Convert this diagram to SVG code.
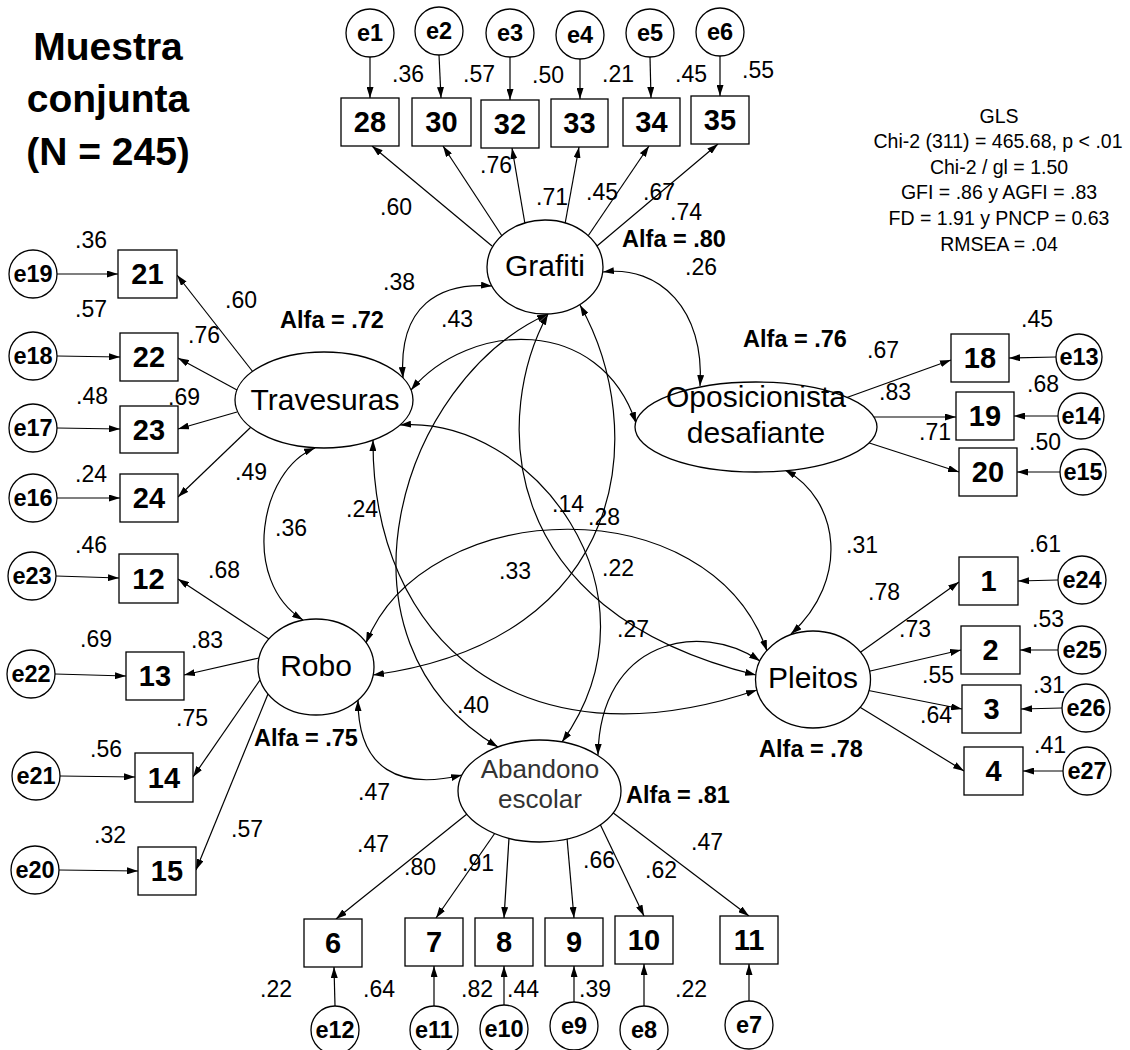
<svg xmlns="http://www.w3.org/2000/svg" width="1130" height="1050" viewBox="0 0 1130 1050">
<defs>
<marker id="ah" markerUnits="userSpaceOnUse" markerWidth="11" markerHeight="7" refX="11" refY="3.5" orient="auto-start-reverse"><path d="M0,0 L11,3.5 L0,7 z" fill="#000"/></marker>
</defs>
<style>
.ln{stroke:#000;stroke-width:1.2;fill:none;marker-end:url(#ah)}
.cv{stroke:#000;stroke-width:1.2;fill:none;marker-start:url(#ah);marker-end:url(#ah)}
.sh{fill:#fff;stroke:#000;stroke-width:1.3}
text{font-family:"Liberation Sans",Arial,sans-serif;fill:#000;text-anchor:middle}
.n{font-size:23px}
.bx{font-size:29px;font-weight:bold}
.el{font-size:23.5px;font-weight:bold}
.lt{font-size:30px}
.ab{font-size:26px;fill:#333}
.al{font-size:23.5px;font-weight:bold}
.st{font-size:19.5px}
.ti{font-size:39px;font-weight:bold}
</style>
<rect width="1130" height="1050" fill="#fff"/>
<g id="title">
<text class="ti" x="108" y="60">Muestra</text>
<text class="ti" x="108" y="112">conjunta</text>
<text class="ti" x="108" y="165">(N = 245)</text>
</g>
<g id="stats">
<text class="st" x="999" y="123">GLS</text>
<text class="st" x="998" y="148">Chi-2 (311) = 465.68, p &lt; .01</text>
<text class="st" x="999" y="174">Chi-2 / gl = 1.50</text>
<text class="st" x="999" y="199">GFI = .86 y AGFI = .83</text>
<text class="st" x="999" y="225">FD = 1.91 y PNCP = 0.63</text>
<text class="st" x="999" y="251">RMSEA = .04</text>
</g>
<g id="connectors">
<path class="ln" d="M370,57 L370,98"/>
<path class="ln" d="M439,55 L441,98"/>
<path class="ln" d="M510,57 L510,100"/>
<path class="ln" d="M580,59 L580,99"/>
<path class="ln" d="M650,57 L651,98"/>
<path class="ln" d="M720,56 L720,96"/>
<path class="ln" d="M57,274 L118,274"/>
<path class="ln" d="M57,356 L120,357"/>
<path class="ln" d="M57,428 L120,429"/>
<path class="ln" d="M57,498 L120,498"/>
<path class="ln" d="M56,576 L119,578"/>
<path class="ln" d="M55,674 L126,676"/>
<path class="ln" d="M60,776 L135,777"/>
<path class="ln" d="M59,870 L138,871"/>
<path class="ln" d="M1056,357 L1009,358"/>
<path class="ln" d="M1058,416 L1014,416"/>
<path class="ln" d="M1060,472 L1017,472"/>
<path class="ln" d="M1058,580 L1018,581"/>
<path class="ln" d="M1058,650 L1020,650"/>
<path class="ln" d="M1062,708 L1021,709"/>
<path class="ln" d="M1063,771 L1023,771"/>
<path class="ln" d="M335,1006 L334,967"/>
<path class="ln" d="M434,1006 L434,966"/>
<path class="ln" d="M504,1005 L504,966"/>
<path class="ln" d="M574,1002 L574,966"/>
<path class="ln" d="M644,1006 L644,964"/>
<path class="ln" d="M749,1001 L749,964"/>
<path class="ln" d="M492,246 L372,146"/>
<path class="ln" d="M502,236 L443,146"/>
<path class="ln" d="M525,224 L512,148"/>
<path class="ln" d="M565,224 L579,147"/>
<path class="ln" d="M588,236 L649,146"/>
<path class="ln" d="M597,246 L718,144"/>
<path class="ln" d="M253,372 L177,275"/>
<path class="ln" d="M237,390 L178,358"/>
<path class="ln" d="M237,412 L178,429"/>
<path class="ln" d="M251,427 L178,497"/>
<path class="ln" d="M269,639 L178,579"/>
<path class="ln" d="M259,658 L184,675"/>
<path class="ln" d="M260,680 L193,777"/>
<path class="ln" d="M268,694 L196,870"/>
<path class="ln" d="M840,400 L951,360"/>
<path class="ln" d="M870,417 L956,417"/>
<path class="ln" d="M857,439 L959,472"/>
<path class="ln" d="M858,654 L959,582"/>
<path class="ln" d="M866,672 L961,650"/>
<path class="ln" d="M866,690 L962,709"/>
<path class="ln" d="M858,706 L964,771"/>
<path class="ln" d="M467,814 L336,919"/>
<path class="ln" d="M495,833 L436,918"/>
<path class="ln" d="M509,838 L504,918"/>
<path class="ln" d="M567,838 L574,918"/>
<path class="ln" d="M600,824 L644,916"/>
<path class="ln" d="M612,812 L749,916"/>
<path class="cv" d="M492,286 C440,282 398,305 403,378"/>
<path class="cv" d="M411,390 C470,320 600,315 636,423"/>
<path class="cv" d="M603,272 C660,265 705,310 700,386"/>
<path class="cv" d="M315,448 C260,470 240,580 303,620"/>
<path class="cv" d="M373,440 C372,640 520,770 757,690"/>
<path class="cv" d="M548,314 C400,380 320,640 498,747"/>
<path class="cv" d="M548,314 C495,410 490,610 756,675"/>
<path class="cv" d="M580,305 C650,430 630,640 373,675"/>
<path class="cv" d="M400,425 C530,415 670,590 562,742"/>
<path class="cv" d="M366,643 C425,495 710,485 767,651"/>
<path class="cv" d="M598,755 C600,640 700,620 760,661"/>
<path class="cv" d="M358,700 C358,770 400,790 462,775"/>
<path class="cv" d="M785,470 C840,500 850,580 791,634"/>
</g>
<g id="labels">
<text class="n" x="408" y="82">.36</text>
<text class="n" x="479" y="82">.57</text>
<text class="n" x="548" y="83">.50</text>
<text class="n" x="618" y="82">.21</text>
<text class="n" x="691" y="82">.45</text>
<text class="n" x="758" y="78">.55</text>
<text class="n" x="396" y="215">.60</text>
<text class="n" x="496" y="173">.76</text>
<text class="n" x="552" y="205">.71</text>
<text class="n" x="602" y="200">.45</text>
<text class="n" x="659" y="200">.67</text>
<text class="n" x="686" y="220">.74</text>
<text class="al" x="674" y="247">Alfa = .80</text>
<text class="n" x="701" y="275">.26</text>
<text class="n" x="399" y="290">.38</text>
<text class="n" x="457" y="327">.43</text>
<text class="n" x="91" y="248">.36</text>
<text class="n" x="91" y="317">.57</text>
<text class="n" x="92" y="404">.48</text>
<text class="n" x="91" y="482">.24</text>
<text class="n" x="241" y="308">.60</text>
<text class="n" x="204" y="343">.76</text>
<text class="n" x="184" y="405">.69</text>
<text class="n" x="251" y="480">.49</text>
<text class="al" x="332" y="328">Alfa = .72</text>
<text class="al" x="795" y="347">Alfa = .76</text>
<text class="n" x="883" y="358">.67</text>
<text class="n" x="895" y="400">.83</text>
<text class="n" x="935" y="440">.71</text>
<text class="n" x="1037" y="327">.45</text>
<text class="n" x="1043" y="392">.68</text>
<text class="n" x="1045" y="450">.50</text>
<text class="n" x="291" y="536">.36</text>
<text class="n" x="362" y="517">.24</text>
<text class="n" x="568" y="512">.14</text>
<text class="n" x="604" y="525">.28</text>
<text class="n" x="515" y="579">.33</text>
<text class="n" x="618" y="576">.22</text>
<text class="n" x="862" y="553">.31</text>
<text class="n" x="633" y="637">.27</text>
<text class="n" x="473" y="713">.40</text>
<text class="n" x="374" y="800">.47</text>
<text class="n" x="91" y="553">.46</text>
<text class="n" x="96" y="647">.69</text>
<text class="n" x="106" y="757">.56</text>
<text class="n" x="110" y="843">.32</text>
<text class="n" x="224" y="578">.68</text>
<text class="n" x="207" y="648">.83</text>
<text class="n" x="192" y="726">.75</text>
<text class="n" x="247" y="837">.57</text>
<text class="al" x="306" y="746">Alfa = .75</text>
<text class="n" x="1045" y="552">.61</text>
<text class="n" x="1048" y="627">.53</text>
<text class="n" x="1049" y="693">.31</text>
<text class="n" x="1050" y="753">.41</text>
<text class="n" x="884" y="600">.78</text>
<text class="n" x="915" y="637">.73</text>
<text class="n" x="938" y="683">.55</text>
<text class="n" x="936" y="723">.64</text>
<text class="al" x="811" y="757">Alfa = .78</text>
<text class="al" x="678" y="803">Alfa = .81</text>
<text class="n" x="373" y="852">.47</text>
<text class="n" x="420" y="875">.80</text>
<text class="n" x="478" y="871">.91</text>
<text class="n" x="599" y="868">.66</text>
<text class="n" x="661" y="878">.62</text>
<text class="n" x="707" y="850">.47</text>
<text class="n" x="276" y="997">.22</text>
<text class="n" x="379" y="997">.64</text>
<text class="n" x="477" y="997">.82</text>
<text class="n" x="523" y="997">.44</text>
<text class="n" x="595" y="997">.39</text>
<text class="n" x="691" y="997">.22</text>
</g>
<g id="latent-grafiti"><ellipse class="sh" cx="545" cy="267" rx="58" ry="47"/><text class="lt" x="545" y="276">Grafiti</text></g>
<g id="latent-travesuras"><ellipse class="sh" cx="324" cy="400" rx="89" ry="48"/><text class="lt" x="325" y="410">Travesuras</text></g>
<g id="latent-oposicionista"><ellipse class="sh" cx="756" cy="427" rx="121" ry="45"/><text class="lt" x="756" y="407">Oposicionista</text><text class="lt" x="756" y="443">desafiante</text></g>
<g id="latent-robo"><ellipse class="sh" cx="316" cy="667" rx="58" ry="48"/><text class="lt" x="316" y="676">Robo</text></g>
<g id="latent-pleitos"><ellipse class="sh" cx="813" cy="679.5" rx="57.5" ry="48.5"/><text class="lt" x="813" y="688">Pleitos</text></g>
<g id="latent-abandono"><ellipse class="sh" cx="539.5" cy="791" rx="81.5" ry="51"/><text class="ab" x="540" y="778">Abandono</text><text class="ab" x="540" y="808">escolar</text></g>
<g id="item-28"><rect class="sh" x="341" y="98" width="58" height="48"/><text class="bx" x="370" y="132">28</text></g>
<g id="item-30"><rect class="sh" x="412" y="98" width="59" height="48"/><text class="bx" x="441.5" y="132">30</text></g>
<g id="item-32"><rect class="sh" x="481" y="100" width="58" height="48"/><text class="bx" x="510" y="134">32</text></g>
<g id="item-33"><rect class="sh" x="551" y="99" width="57" height="48"/><text class="bx" x="579.5" y="133">33</text></g>
<g id="item-34"><rect class="sh" x="623" y="98" width="57" height="48"/><text class="bx" x="651.5" y="132">34</text></g>
<g id="item-35"><rect class="sh" x="691" y="96" width="58" height="48"/><text class="bx" x="720" y="130">35</text></g>
<g id="item-21"><rect class="sh" x="118" y="250" width="59" height="48"/><text class="bx" x="147.5" y="284">21</text></g>
<g id="item-22"><rect class="sh" x="120" y="333" width="58" height="48"/><text class="bx" x="149" y="367">22</text></g>
<g id="item-23"><rect class="sh" x="120" y="406" width="58" height="47"/><text class="bx" x="149" y="440">23</text></g>
<g id="item-24"><rect class="sh" x="120" y="474" width="58" height="48"/><text class="bx" x="149" y="508">24</text></g>
<g id="item-12"><rect class="sh" x="119" y="554" width="59" height="49"/><text class="bx" x="148.5" y="589">12</text></g>
<g id="item-13"><rect class="sh" x="126" y="652" width="58" height="48"/><text class="bx" x="155" y="686">13</text></g>
<g id="item-14"><rect class="sh" x="135" y="753" width="58" height="49"/><text class="bx" x="164" y="788">14</text></g>
<g id="item-15"><rect class="sh" x="138" y="847" width="58" height="48"/><text class="bx" x="167" y="881">15</text></g>
<g id="item-18"><rect class="sh" x="951" y="334" width="58" height="48"/><text class="bx" x="980" y="368">18</text></g>
<g id="item-19"><rect class="sh" x="956" y="392" width="58" height="48"/><text class="bx" x="985" y="426">19</text></g>
<g id="item-20"><rect class="sh" x="959" y="448" width="58" height="48"/><text class="bx" x="988" y="482">20</text></g>
<g id="item-1"><rect class="sh" x="959" y="557" width="59" height="48"/><text class="bx" x="988.5" y="591">1</text></g>
<g id="item-2"><rect class="sh" x="961" y="626" width="59" height="48"/><text class="bx" x="990.5" y="660">2</text></g>
<g id="item-3"><rect class="sh" x="962" y="685" width="59" height="48"/><text class="bx" x="991.5" y="719">3</text></g>
<g id="item-4"><rect class="sh" x="964" y="747" width="59" height="48"/><text class="bx" x="993.5" y="781">4</text></g>
<g id="item-6"><rect class="sh" x="304" y="919" width="58" height="48"/><text class="bx" x="333" y="953">6</text></g>
<g id="item-7"><rect class="sh" x="405" y="918" width="58" height="48"/><text class="bx" x="434" y="952">7</text></g>
<g id="item-8"><rect class="sh" x="475" y="918" width="58" height="48"/><text class="bx" x="504" y="952">8</text></g>
<g id="item-9"><rect class="sh" x="545" y="918" width="58" height="48"/><text class="bx" x="574" y="952">9</text></g>
<g id="item-10"><rect class="sh" x="615" y="916" width="58" height="48"/><text class="bx" x="644" y="950">10</text></g>
<g id="item-11"><rect class="sh" x="720" y="916" width="58" height="48"/><text class="bx" x="749" y="950">11</text></g>
<g id="err-e1"><circle class="sh" cx="370" cy="33" r="24"/><text class="el" x="370" y="41">e1</text></g>
<g id="err-e2"><circle class="sh" cx="439" cy="31" r="24"/><text class="el" x="439" y="39">e2</text></g>
<g id="err-e3"><circle class="sh" cx="510" cy="33" r="24"/><text class="el" x="510" y="41">e3</text></g>
<g id="err-e4"><circle class="sh" cx="580" cy="35" r="24"/><text class="el" x="580" y="43">e4</text></g>
<g id="err-e5"><circle class="sh" cx="650" cy="33" r="24"/><text class="el" x="650" y="41">e5</text></g>
<g id="err-e6"><circle class="sh" cx="720" cy="32" r="24"/><text class="el" x="720" y="40">e6</text></g>
<g id="err-e19"><circle class="sh" cx="33" cy="274" r="24"/><text class="el" x="33" y="282">e19</text></g>
<g id="err-e18"><circle class="sh" cx="33" cy="356" r="24"/><text class="el" x="33" y="364">e18</text></g>
<g id="err-e17"><circle class="sh" cx="33" cy="428" r="24"/><text class="el" x="33" y="436">e17</text></g>
<g id="err-e16"><circle class="sh" cx="33" cy="498" r="24"/><text class="el" x="33" y="506">e16</text></g>
<g id="err-e23"><circle class="sh" cx="32" cy="576" r="24"/><text class="el" x="32" y="584">e23</text></g>
<g id="err-e22"><circle class="sh" cx="31" cy="674" r="24"/><text class="el" x="31" y="682">e22</text></g>
<g id="err-e21"><circle class="sh" cx="36" cy="776" r="24"/><text class="el" x="36" y="784">e21</text></g>
<g id="err-e20"><circle class="sh" cx="35" cy="870" r="24"/><text class="el" x="35" y="878">e20</text></g>
<g id="err-e13"><circle class="sh" cx="1079" cy="357" r="23"/><text class="el" x="1079" y="365">e13</text></g>
<g id="err-e14"><circle class="sh" cx="1081" cy="416" r="23"/><text class="el" x="1081" y="424">e14</text></g>
<g id="err-e15"><circle class="sh" cx="1083" cy="472" r="23"/><text class="el" x="1083" y="480">e15</text></g>
<g id="err-e24"><circle class="sh" cx="1082" cy="580" r="24"/><text class="el" x="1082" y="588">e24</text></g>
<g id="err-e25"><circle class="sh" cx="1082" cy="650" r="24"/><text class="el" x="1082" y="658">e25</text></g>
<g id="err-e26"><circle class="sh" cx="1086" cy="708" r="24"/><text class="el" x="1086" y="716">e26</text></g>
<g id="err-e27"><circle class="sh" cx="1087" cy="771" r="24"/><text class="el" x="1087" y="779">e27</text></g>
<g id="err-e12"><circle class="sh" cx="335" cy="1030" r="24"/><text class="el" x="335" y="1038">e12</text></g>
<g id="err-e11"><circle class="sh" cx="434" cy="1030" r="24"/><text class="el" x="434" y="1038">e11</text></g>
<g id="err-e10"><circle class="sh" cx="504" cy="1029" r="24"/><text class="el" x="504" y="1037">e10</text></g>
<g id="err-e9"><circle class="sh" cx="574" cy="1026" r="24"/><text class="el" x="574" y="1034">e9</text></g>
<g id="err-e8"><circle class="sh" cx="644" cy="1030" r="24"/><text class="el" x="644" y="1038">e8</text></g>
<g id="err-e7"><circle class="sh" cx="749" cy="1025" r="24"/><text class="el" x="749" y="1033">e7</text></g>
</svg>
